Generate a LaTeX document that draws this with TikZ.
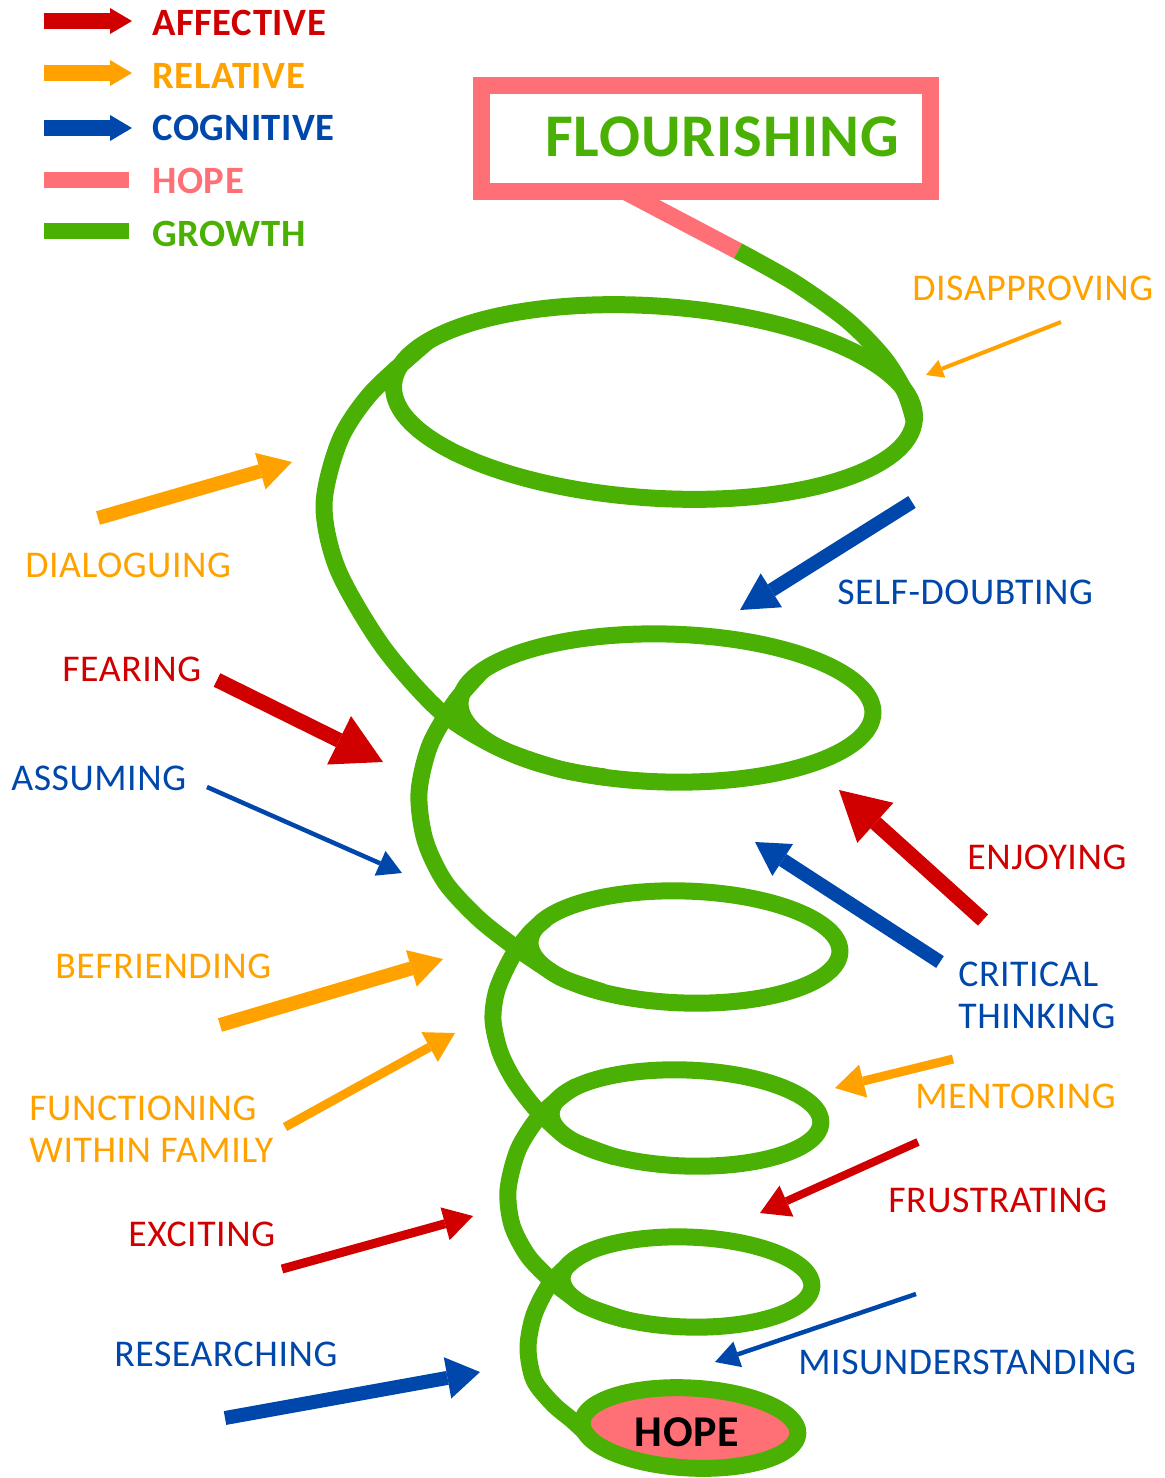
\documentclass[tikz,border=0pt]{standalone}
\usepackage{fontspec}
\setmainfont[LetterSpace=1.5]{Carlito}
\usepackage{tikz}
\usetikzlibrary{arrows.meta,calc}
\definecolor{figred}{RGB}{208,0,0}
\definecolor{figorange}{RGB}{255,162,0}
\definecolor{figblue}{RGB}{0,71,171}
\definecolor{figpink}{RGB}{255,112,118}
\definecolor{figgreen}{RGB}{74,177,4}
\tikzset{
  lbl/.style={anchor=west, inner sep=0pt, font=\fontsize{21.5}{26}\selectfont},
  leglbl/.style={anchor=west, inner sep=0pt, font=\fontsize{22}{26}\selectfont\bfseries},
  flourbox/.style={draw=figpink, line width=0.34cm, minimum width=9cm, minimum height=2.12cm, inner sep=0pt, outer sep=0pt},
  flourtitle/.style={inner sep=0pt, text=figgreen, font=\fontsize{34.5}{40}\selectfont\bfseries},
  hopetitle/.style={inner sep=0pt, text=black, font=\fontsize{25}{30}\selectfont\bfseries},
  spiral/.style={draw=figgreen, line width=0.34cm, line join=round},
  hopeline/.style={draw=figpink, line width=0.34cm},
  legarrow/.style={line width=0.32cm, -{Triangle[length=0.44cm, width=0.52cm, line width=0pt]}},
  legbar/.style={line width=0.32cm},
  bigarrow/.style={line width=0.3cm, -{Triangle[length=0.98cm, width=1.08cm, line width=0pt]}},
  thickarrow/.style={line width=0.28cm, -{Triangle[length=0.66cm, width=0.76cm, line width=0pt]}},
  medarrow/.style={line width=0.18cm, -{Triangle[length=0.58cm, width=0.68cm, line width=0pt]}},
  thinarrow/.style={line width=0.09cm, -{Triangle[length=0.48cm, width=0.54cm, line width=0pt]}}
}

\begin{document}
\begin{tikzpicture}[x=0.02cm,y=-0.02cm]
  \useasboundingbox (0,0) rectangle (1165,1478);

  % legend
  \coordinate (affA) at (44,21);  \coordinate (affB) at (132,21);
  \coordinate (relA) at (44,73);  \coordinate (relB) at (132,73);
  \coordinate (cogA) at (44,128); \coordinate (cogB) at (132,128);
  \coordinate (hopA) at (44,180); \coordinate (hopB) at (129,180);
  \coordinate (groA) at (44,231); \coordinate (groB) at (129,231);
  \draw[legarrow, figred] (affA) -- (affB);
  \draw[legarrow, figorange] (relA) -- (relB);
  \draw[legarrow, figblue] (cogA) -- (cogB);
  \draw[legbar, figpink] (hopA) -- (hopB);
  \draw[legbar, figgreen] (groA) -- (groB);
  \node[leglbl, text=figred] (legaff) at (152,22.5) {AFFECTIVE};
  \node[leglbl, text=figorange] (legrel) at (152,76) {RELATIVE};
  \node[leglbl, text=figblue] (legcog) at (152,127.5) {COGNITIVE};
  \node[leglbl, text=figpink] (leghope) at (152,181) {HOPE};
  \node[leglbl, text=figgreen] (leggrow) at (152,234) {GROWTH};

  % top box and stem
  \node[flourbox] (flourish) at (706,138.5) {};
  \node[flourtitle] (flourtext) at (722,137) {FLOURISHING};
  \coordinate (stem) at ($(flourish.south west)!0.32!(flourish.south east)$);
  \coordinate (stemend) at (738,251);
  \draw[hopeline] (stem) -- (stemend);

  % spiral
  \draw[spiral] plot[smooth] coordinates {(738,251) (795,283) (848,321) (884,358) (905,392) (914,420)};
  \draw[spiral, rotate around={-3.8:(654,402)}] (654,402) ellipse [x radius=261, y radius=96];
  \draw[spiral, rotate around={-1.4:(666.5,708)}] (666.5,708) ellipse [x radius=206.5, y radius=74];
  \draw[spiral, rotate around={-1.8:(685,947)}] (685,947) ellipse [x radius=155, y radius=56];
  \draw[spiral, rotate around={-2:(686,1118)}] (686,1118) ellipse [x radius=135, y radius=48];
  \draw[spiral, rotate around={-1.8:(687,1282)}] (687,1282) ellipse [x radius=125, y radius=45];
  \draw[spiral] plot[smooth] coordinates {(427,342) (372,392) (340,440) (324,505) (338,570) (383,647) (440,711) (497,747) (559,769) (605,777)};
  \draw[spiral] plot[smooth] coordinates {(482,671) (455,702) (430,745) (419,793) (425,840) (445,882) (478,918) (512,945) (544,967) (564,979) (603,992)};
  \draw[spiral] plot[smooth] coordinates {(546,919) (530,933) (512,957) (497,990) (493,1020) (500,1052) (514,1080) (535,1108) (560,1132) (575,1142) (615,1157)};
  \draw[spiral] plot[smooth] coordinates {(577,1086) (562,1096) (538,1118) (518,1150) (508,1190) (512,1225) (528,1256) (552,1281) (571,1296) (586,1306) (626,1320)};
  \draw[spiral] plot[smooth] coordinates {(588,1252) (573,1261) (550,1284) (534,1315) (528,1348) (534,1380) (553,1404) (572,1420) (585,1432)};
  \draw[spiral, fill=figpink, rotate around={-3:(690,1428)}] (690,1428) ellipse [x radius=108, y radius=40];
  \node[hopetitle] (hope) at (687,1432) {HOPE};

  % arrows
  \coordinate (disA) at (1061,322);  \coordinate (disB) at (926,375);
  \coordinate (diaA) at (98,518);    \coordinate (diaB) at (292,462);
  \coordinate (feaA) at (217,680);   \coordinate (feaB) at (383,762);
  \coordinate (assA) at (207,787);   \coordinate (assB) at (402,873);
  \coordinate (selA) at (912,502);   \coordinate (selB) at (740,610);
  \coordinate (enjA) at (983,920);   \coordinate (enjB) at (839,790);
  \coordinate (criA) at (940,962);   \coordinate (criB) at (755,842);
  \coordinate (menA) at (953,1059);  \coordinate (menB) at (835,1088);
  \coordinate (fruA) at (918,1142);  \coordinate (fruB) at (760,1213);
  \coordinate (befA) at (220,1025);  \coordinate (befB) at (443,959);
  \coordinate (funA) at (285,1127);  \coordinate (funB) at (455,1033);
  \coordinate (excA) at (282,1269);  \coordinate (excB) at (473,1216);
  \coordinate (resA) at (225,1418);  \coordinate (resB) at (480,1372);
  \coordinate (misA) at (916,1294);  \coordinate (misB) at (715,1362);
  \draw[thinarrow, figorange, line width=0.08cm, -{Triangle[length=0.34cm, width=0.38cm, line width=0pt]}] (disA) -- (disB);
  \draw[thickarrow, figorange] (diaA) -- (diaB);
  \draw[bigarrow, figred] (feaA) -- (feaB);
  \draw[thinarrow, figblue] (assA) -- (assB);
  \draw[thickarrow, figblue, -{Triangle[length=0.74cm, width=0.8cm, line width=0pt]}] (selA) -- (selB);
  \draw[bigarrow, figred] (enjA) -- (enjB);
  \draw[thickarrow, figblue] (criA) -- (criB);
  \draw[medarrow, figorange] (menA) -- (menB);
  \draw[medarrow, figred, line width=0.16cm] (fruA) -- (fruB);
  \draw[thickarrow, figorange] (befA) -- (befB);
  \draw[medarrow, figorange] (funA) -- (funB);
  \draw[medarrow, figred] (excA) -- (excB);
  \draw[thickarrow, figblue, -{Triangle[length=0.66cm, width=0.84cm, line width=0pt]}] (resA) -- (resB);
  \draw[thinarrow, figblue] (misA) -- (misB);

  % labels
  \node[lbl, text=figorange] (disapproving) at (912,288) {DISAPPROVING};
  \node[lbl, text=figorange] (dialoguing) at (25,565) {DIALOGUING};
  \node[lbl, text=figred] (fearing) at (62,669) {FEARING};
  \node[lbl, text=figblue] (assuming) at (11,778) {ASSUMING};
  \node[lbl, text=figblue] (selfdoubting) at (837,592) {SELF-DOUBTING};
  \node[lbl, text=figred] (enjoying) at (967,857) {ENJOYING};
  \node[lbl, text=figblue] (critical) at (958,974) {CRITICAL};
  \node[lbl, text=figblue] (thinking) at (958,1016) {THINKING};
  \node[lbl, text=figorange] (mentoring) at (915,1096) {MENTORING};
  \node[lbl, text=figred] (frustrating) at (888,1200) {FRUSTRATING};
  \node[lbl, text=figorange] (befriending) at (55,966) {BEFRIENDING};
  \node[lbl, text=figorange] (functioning) at (29,1108) {FUNCTIONING};
  \node[lbl, text=figorange] (family) at (29,1150) {WITHIN FAMILY};
  \node[lbl, text=figred] (exciting) at (128,1234) {EXCITING};
  \node[lbl, text=figblue] (researching) at (114,1354) {RESEARCHING};
  \node[lbl, text=figblue] (misunderstanding) at (798,1362) {MISUNDERSTANDING};
\end{tikzpicture}
\end{document}
